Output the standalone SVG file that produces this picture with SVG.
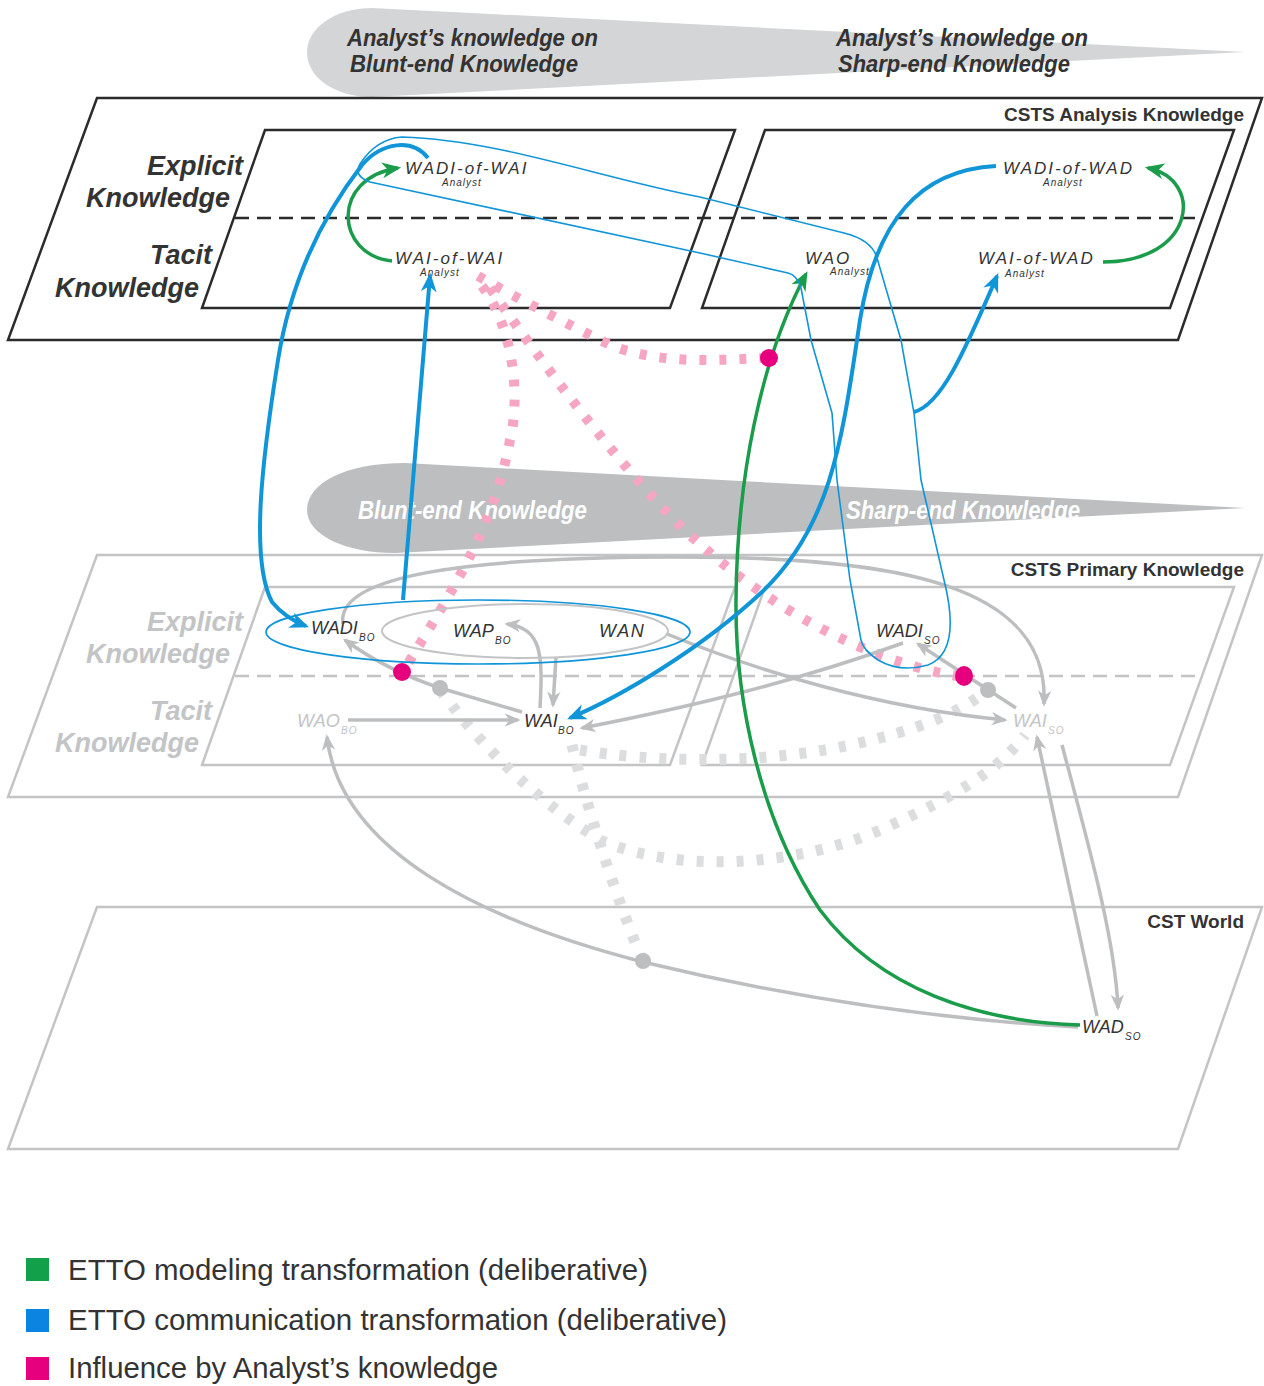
<svg xmlns="http://www.w3.org/2000/svg" width="1264" height="1386" viewBox="0 0 1264 1386">
<style>
.fd{fill:none;stroke:#2b2b2b;stroke-width:2.5}
.fl{fill:none;stroke:#c3c4c6;stroke-width:2.5}
.dk{fill:none;stroke:#2b2b2b;stroke-width:2.5;stroke-dasharray:14 8}
.dl{fill:none;stroke:#c3c4c6;stroke-width:2.5;stroke-dasharray:14 8}
.lay{font-family:"Liberation Sans",Arial,sans-serif;font-weight:bold;font-size:19px;fill:#333;text-anchor:end}
.side{font-family:"Liberation Sans",Arial,sans-serif;font-weight:bold;font-style:italic;font-size:27px;text-anchor:end}
.cond{font-family:"Liberation Sans",Arial,sans-serif;font-weight:bold;font-style:italic;font-size:25px}
.cond2{font-family:"Liberation Sans",Arial,sans-serif;font-weight:bold;font-style:italic;font-size:23px}
.nd{font-family:"Liberation Sans",Arial,sans-serif;font-style:italic;font-size:17px;letter-spacing:2px;fill:#333}
.np{font-family:"Liberation Sans",Arial,sans-serif;font-style:italic;font-size:18px;fill:#333}
.npg{font-family:"Liberation Sans",Arial,sans-serif;font-style:italic;font-size:18px;fill:#c3c4c6}
.sub{font-family:"Liberation Sans",Arial,sans-serif;font-style:italic;font-size:10px;letter-spacing:1px;fill:#333}
.subg{font-family:"Liberation Sans",Arial,sans-serif;font-style:italic;font-size:10px;letter-spacing:1px;fill:#c3c4c6}
.leg{font-family:"Liberation Sans",Arial,sans-serif;font-size:29px;fill:#333}
.g{fill:none;stroke:#bcbec0;stroke-width:3.5}
.gr{fill:none;stroke:#1a9c4a;stroke-width:3.5}
.bl{fill:none;stroke:#1095d9;stroke-width:4}
.blt{fill:none;stroke:#1095d9;stroke-width:1.6}
.pk{fill:none;stroke:#f6a5c2;stroke-width:10;stroke-dasharray:7 13}
.gd{fill:none;stroke:#dcddde;stroke-width:11;stroke-dasharray:7 13}
</style>
<defs>
<marker id="ag" viewBox="0 0 12 10" refX="10" refY="5" markerWidth="16" markerHeight="14" markerUnits="userSpaceOnUse" orient="auto"><path d="M0,0 L12,5 L0,10 L3.5,5 Z" fill="#bcbec0"/></marker>
<marker id="ab" viewBox="0 0 12 10" refX="10" refY="5" markerWidth="20" markerHeight="16" markerUnits="userSpaceOnUse" orient="auto"><path d="M0,0 L12,5 L0,10 L3.5,5 Z" fill="#1095d9"/></marker>
<marker id="agr" viewBox="0 0 12 10" refX="10" refY="5" markerWidth="20" markerHeight="16" markerUnits="userSpaceOnUse" orient="auto"><path d="M0,0 L12,5 L0,10 L3.5,5 Z" fill="#1a9c4a"/></marker>
</defs>

<!-- background shapes -->
<g id="band-analyst">
<path d="M372,8 L1245,52 L372,97 C335,97 307,78 307,52 C307,28 335,8 372,8 Z" fill="#d4d5d6"/>
<text class="cond2" x="347" y="46" fill="#333" textLength="251" lengthAdjust="spacingAndGlyphs">Analyst’s knowledge on</text>
<text class="cond2" x="350" y="72" fill="#333" textLength="228" lengthAdjust="spacingAndGlyphs">Blunt-end Knowledge</text>
<text class="cond2" x="836" y="46" fill="#333" textLength="252" lengthAdjust="spacingAndGlyphs">Analyst’s knowledge on</text>
<text class="cond2" x="838" y="72" fill="#333" textLength="232" lengthAdjust="spacingAndGlyphs">Sharp-end Knowledge</text>
</g>

<g id="layer-analysis">
<polygon class="fd" points="97,98 1262,98 1178,340 8,340"/>
<polygon class="fd" points="265,130 735,130 670,308 202,308"/>
<polygon class="fd" points="765,130 1234,130 1170,308 702,308"/>
<line class="dk" x1="235" y1="218" x2="1202" y2="218"/>
<text class="lay" x="1244" y="121">CSTS Analysis Knowledge</text>
<text class="side" x="243" y="175" fill="#333">Explicit</text>
<text class="side" x="230" y="207" fill="#333">Knowledge</text>
<text class="side" x="212" y="264" fill="#333">Tacit</text>
<text class="side" x="199" y="297" fill="#333">Knowledge</text>
</g>

<g id="band-primary">
<path d="M405,463 L1245,508 L395,553 C345,553 307,535 307,510 C307,483 345,463 405,463 Z" fill="#bcbec0"/>
<text class="cond" x="358" y="519" fill="#fff" textLength="229" lengthAdjust="spacingAndGlyphs">Blunt-end Knowledge</text>
<text class="cond" x="846" y="519" fill="#fff" textLength="234" lengthAdjust="spacingAndGlyphs">Sharp-end Knowledge</text>
</g>

<g id="layer-primary">
<polygon class="fl" points="97,555 1262,555 1178,797 8,797"/>
<polygon class="fl" points="265,587 735,587 670,765 202,765"/>
<polygon class="fl" points="765,587 1234,587 1170,765 702,765"/>
<line class="dl" x1="235" y1="676" x2="1202" y2="676"/>
<text class="lay" x="1244" y="576">CSTS Primary Knowledge</text>
<text class="side" x="243" y="631" fill="#c3c4c6">Explicit</text>
<text class="side" x="230" y="663" fill="#c3c4c6">Knowledge</text>
<text class="side" x="212" y="720" fill="#c3c4c6">Tacit</text>
<text class="side" x="199" y="752" fill="#c3c4c6">Knowledge</text>
</g>

<g id="layer-world">
<polygon class="fl" points="97,907 1262,907 1178,1149 8,1149"/>
<text class="lay" x="1244" y="928">CST World</text>
</g>

<!-- connectors -->
<g id="connectors">
<!-- gray dashed influence -->
<path class="gd" d="M440,690 C470,730 520,790 600,840 C680,875 800,865 880,830 C960,795 1000,768 1025,735"/>
<path class="gd" d="M580,750 C650,762 760,765 850,745 C920,730 960,712 988,690"/>
<path class="gd" d="M572,745 C585,800 610,880 640,955"/>
<!-- pink dashed influence -->
<path class="pk" d="M478,276 C520,300 570,325 610,345 C660,365 720,360 762,358"/>
<path class="pk" d="M490,288 C540,360 600,440 660,505 C720,570 800,625 880,655 C910,666 935,673 958,676"/>
<path class="pk" d="M482,286 C515,330 520,400 510,440 C495,520 460,580 405,668"/>
<!-- gray arrows -->
<path class="g" d="M343,624 C335,575 470,557 680,557 C900,557 1050,585 1044,704" marker-end="url(#ag)"/>
<path class="g" d="M348,720 L518,720" marker-end="url(#ag)"/>
<path class="g" d="M522,712 L440,688 C410,678 375,662 345,640" marker-end="url(#ag)"/>
<path class="g" d="M540,708 C543,655 542,628 507,624" marker-end="url(#ag)"/>
<path class="g" d="M556,657 L553,705" marker-end="url(#ag)"/>
<path class="g" d="M903,643 C800,680 700,705 582,728" marker-end="url(#ag)"/>
<path class="g" d="M667,634 C760,672 880,708 1005,720" marker-end="url(#ag)"/>
<path class="g" d="M1016,708 L918,644" marker-end="url(#ag)"/>
<path class="g" d="M1078,1027 C950,1020 800,1000 643,962 C480,920 340,850 327,737" marker-end="url(#ag)"/>
<path class="g" d="M1097,1016 L1037,737" marker-end="url(#ag)"/>
<path class="g" d="M1062,745 C1090,850 1115,940 1118,1008" marker-end="url(#ag)"/>
<!-- green arrows -->
<path class="gr" d="M392,261 C335,255 330,178 398,168" marker-end="url(#agr)"/>
<path class="gr" d="M1103,262 C1195,262 1205,180 1148,168" marker-end="url(#agr)"/>
<path class="gr" d="M1080,1025 C980,1022 880,990 820,910 C760,820 735,700 736,600 C737,480 760,360 806,274" marker-end="url(#agr)"/>
<!-- blue arrows -->
<path class="blt" d="M402,137 C500,140 600,178 700,197 L844,233 Q872,240 877,258 L901,340 L914,413 L921,480 L944,580 Q962,652 928,665 Q900,673 878,660 Q863,650 861,640 L850,580 L837,480 L832,413 L811,340 L801,288 Q797,275 788,273 L700,253 L370,182 Q353,176 360,164 Q376,139 402,137 Z"/>
<path class="bl" d="M428,158 C412,138 382,142 362,165 C318,222 290,285 278,360 C262,460 250,560 272,602 Q285,618 306,626" marker-end="url(#ab)"/>
<path class="bl" d="M403,600 L430,276" marker-end="url(#ab)"/>
<path class="bl" d="M996,166 C920,170 876,220 860,320 C842,440 832,525 762,592 C702,648 622,696 570,718" marker-end="url(#ab)"/>
<path class="bl" d="M914,412 C940,405 962,358 997,276" marker-end="url(#ab)"/>
<ellipse cx="478" cy="632" rx="212" ry="32" fill="none" stroke="#1095d9" stroke-width="1.6"/>
<ellipse cx="525" cy="631" rx="143" ry="27" fill="none" stroke="#c3c4c6" stroke-width="2"/>
<!-- dots -->
<circle cx="440" cy="688" r="8" fill="#bcbec0"/>
<circle cx="988" cy="690" r="8" fill="#bcbec0"/>
<circle cx="643" cy="961" r="8" fill="#bcbec0"/>
<circle cx="769" cy="358" r="9" fill="#e6007e"/>
<circle cx="402" cy="672" r="9" fill="#e6007e"/>
<ellipse cx="964" cy="676" rx="9" ry="10" fill="#e6007e"/>
</g>

<!-- nodes -->
<g id="n-wadi-of-wai"><text class="nd" x="405" y="174">WADI-of-WAI</text><text class="sub" x="442" y="186">Analyst</text></g>
<g id="n-wai-of-wai"><text class="nd" x="395" y="264">WAI-of-WAI</text><text class="sub" x="420" y="276">Analyst</text></g>
<g id="n-wao-analyst"><text class="nd" x="805" y="264">WAO</text><text class="sub" x="830" y="275">Analyst</text></g>
<g id="n-wadi-of-wad"><text class="nd" x="1003" y="174">WADI-of-WAD</text><text class="sub" x="1043" y="186">Analyst</text></g>
<g id="n-wai-of-wad"><text class="nd" x="978" y="264">WAI-of-WAD</text><text class="sub" x="1005" y="277">Analyst</text></g>
<g id="n-wadi-bo"><text class="np" x="311" y="634">WADI</text><text class="sub" x="359" y="641">BO</text></g>
<g id="n-wap-bo"><text class="np" x="453" y="637">WAP</text><text class="sub" x="495" y="644">BO</text></g>
<g id="n-wan"><text class="np" x="599" y="637" letter-spacing="1.5">WAN</text></g>
<g id="n-wadi-so"><text class="np" x="876" y="637">WADI</text><text class="sub" x="924" y="644">SO</text></g>
<g id="n-wao-bo"><text class="npg" x="297" y="727">WAO</text><text class="subg" x="341" y="734">BO</text></g>
<g id="n-wai-bo"><text class="np" x="524" y="727">WAI</text><text class="sub" x="558" y="734">BO</text></g>
<g id="n-wai-so"><text class="npg" x="1013" y="727">WAI</text><text class="subg" x="1048" y="734">SO</text></g>
<g id="n-wad-so"><text class="np" x="1082" y="1033">WAD</text><text class="sub" x="1125" y="1040">SO</text></g>

<!-- legend -->
<g id="legend">
<rect x="26" y="1258" width="23" height="23" fill="#13a04b"/>
<text class="leg" x="68" y="1280" textLength="580" lengthAdjust="spacingAndGlyphs">ETTO modeling transformation (deliberative)</text>
<rect x="26" y="1309" width="23" height="23" fill="#0a84e0"/>
<text class="leg" x="68" y="1330" textLength="659" lengthAdjust="spacingAndGlyphs">ETTO communication transformation (deliberative)</text>
<rect x="26" y="1357" width="23" height="23" fill="#e6007e"/>
<text class="leg" x="68" y="1378" textLength="430" lengthAdjust="spacingAndGlyphs">Influence by Analyst’s knowledge</text>
</g>
</svg>
